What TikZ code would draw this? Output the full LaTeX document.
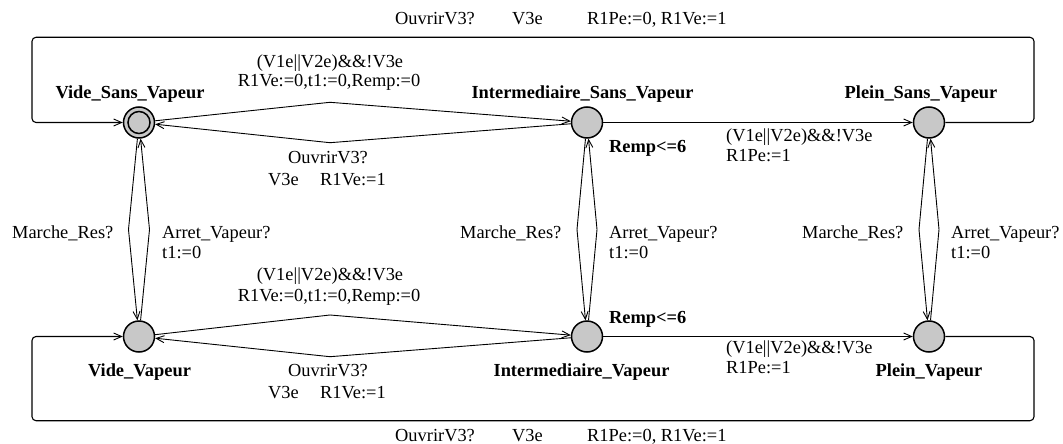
\documentclass[tikz,border=0pt]{standalone}
\usepackage{fontspec}
\setmainfont{Liberation Serif}
\usetikzlibrary{arrows.meta}
\definecolor{stategray}{RGB}{200,200,200}
\begin{document}
\begin{tikzpicture}[x=1pt,y=-1pt,
  loc/.style={circle,draw=black,line width=1.5pt,fill=stategray,minimum size=31pt,inner sep=0pt},
  trans/.style={draw=black,line width=0.9pt,-{Straight Barb[length=8pt,width=7pt,line width=0.9pt]}},
  loop/.style={trans,line width=1.1pt,rounded corners=4pt},
  lbl/.style={font=\fontsize{18.4}{20}\selectfont,inner sep=0pt},
  locname/.style={font=\fontsize{18.4}{20}\selectfont\bfseries,inner sep=0pt},
]
\useasboundingbox (0,0) rectangle (1063,444);

% locations
\node[loc] (vsv) at (139,122.5) {};
\draw[line width=1.5pt] (vsv.center) circle[radius=11pt];
\node[loc] (isv) at (587,122.5) {};
\node[loc] (psv) at (929,122.5) {};
\node[loc] (vv)  at (139,336.5) {};
\node[loc] (iv)  at (587,336.5) {};
\node[loc] (pv)  at (929,336.5) {};

% location names and invariants
\node[locname,anchor=base] at (130,99) {Vide\_Sans\_Vapeur};
\node[locname,anchor=base] at (582.5,99) {Intermediaire\_Sans\_Vapeur};
\node[locname,anchor=base] at (921,99) {Plein\_Sans\_Vapeur};
\node[locname,anchor=base west] at (609,152) {Remp<=6};
\node[locname,anchor=base] at (139.5,376) {Vide\_Vapeur};
\node[locname,anchor=base] at (581.5,376) {Intermediaire\_Vapeur};
\node[locname,anchor=base] at (929,376) {Plein\_Vapeur};
\node[locname,anchor=base west] at (609,323) {Remp<=6};

% bend points of the edges
\coordinate (topR) at (1034,122.5);
\coordinate (topRU) at (1034,37.3);
\coordinate (topLU) at (32,37.3);
\coordinate (topL) at (32,122.5);
\coordinate (botR) at (1034,336.5);
\coordinate (botRD) at (1034,420.7);
\coordinate (botLD) at (32,420.7);
\coordinate (botL) at (32,336.5);
\coordinate (k1) at (330,102.3);
\coordinate (k2) at (330,142.7);
\coordinate (k3) at (330,315);
\coordinate (k4) at (330,356.7);
\coordinate (v1) at (128.5,229.5);
\coordinate (v2) at (149.5,229.5);
\coordinate (v3) at (577,229.5);
\coordinate (v4) at (597,229.5);
\coordinate (v5) at (919,229.5);
\coordinate (v6) at (939,229.5);

% reset loops
\draw[loop] (psv) -- (topR) -- (topRU) -- (topLU) -- (topL) -- (vsv);
\draw[loop] (pv) -- (botR) -- (botRD) -- (botLD) -- (botL) -- (vv);

% horizontal edges
\draw[trans] (vsv) -- (k1) -- (isv);
\draw[trans] (isv) -- (k2) -- (vsv);
\draw[trans] (vv) -- (k3) -- (iv);
\draw[trans] (iv) -- (k4) -- (vv);
\draw[trans] (isv) -- (psv);
\draw[trans] (iv) -- (pv);

% vertical edges
\draw[trans] (vsv) -- (v1) -- (vv);
\draw[trans] (vv) -- (v2) -- (vsv);
\draw[trans] (isv) -- (v3) -- (iv);
\draw[trans] (iv) -- (v4) -- (isv);
\draw[trans] (psv) -- (v5) -- (pv);
\draw[trans] (pv) -- (v6) -- (psv);

% labels of the reset loops
\node[lbl,anchor=base west] at (395,25) {OuvrirV3?};
\node[lbl,anchor=base west] at (512,25) {V3e};
\node[lbl,anchor=base west] at (587,25) {R1Pe:=0, R1Ve:=1};
\node[lbl,anchor=base west] at (395,441) {OuvrirV3?};
\node[lbl,anchor=base west] at (512,441) {V3e};
\node[lbl,anchor=base west] at (587,441) {R1Pe:=0, R1Ve:=1};

% labels of the upper row
\node[lbl,anchor=base] at (330,67) {(V1e||V2e)\&\&!V3e};
\node[lbl,anchor=base] at (329,87) {R1Ve:=0,t1:=0,Remp:=0};
\node[lbl,anchor=base west] at (288,163) {OuvrirV3?};
\node[lbl,anchor=base west] at (268,185) {V3e};
\node[lbl,anchor=base west] at (320,185) {R1Ve:=1};
\node[lbl,anchor=base west] at (726,141) {(V1e||V2e)\&\&!V3e};
\node[lbl,anchor=base west] at (726,161) {R1Pe:=1};

% labels of the vertical edges
\node[lbl,anchor=base west] at (12,238) {Marche\_Res?};
\node[lbl,anchor=base west] at (162,238) {Arret\_Vapeur?};
\node[lbl,anchor=base west] at (162,258) {t1:=0};
\node[lbl,anchor=base west] at (460,238) {Marche\_Res?};
\node[lbl,anchor=base west] at (609,238) {Arret\_Vapeur?};
\node[lbl,anchor=base west] at (609,258) {t1:=0};
\node[lbl,anchor=base west] at (802,238) {Marche\_Res?};
\node[lbl,anchor=base west] at (951,238) {Arret\_Vapeur?};
\node[lbl,anchor=base west] at (951,258) {t1:=0};

% labels of the lower row
\node[lbl,anchor=base] at (330,280) {(V1e||V2e)\&\&!V3e};
\node[lbl,anchor=base] at (329,301) {R1Ve:=0,t1:=0,Remp:=0};
\node[lbl,anchor=base west] at (288,376) {OuvrirV3?};
\node[lbl,anchor=base west] at (268,398) {V3e};
\node[lbl,anchor=base west] at (320,398) {R1Ve:=1};
\node[lbl,anchor=base west] at (726,353) {(V1e||V2e)\&\&!V3e};
\node[lbl,anchor=base west] at (726,373) {R1Pe:=1};
\end{tikzpicture}
\end{document}
